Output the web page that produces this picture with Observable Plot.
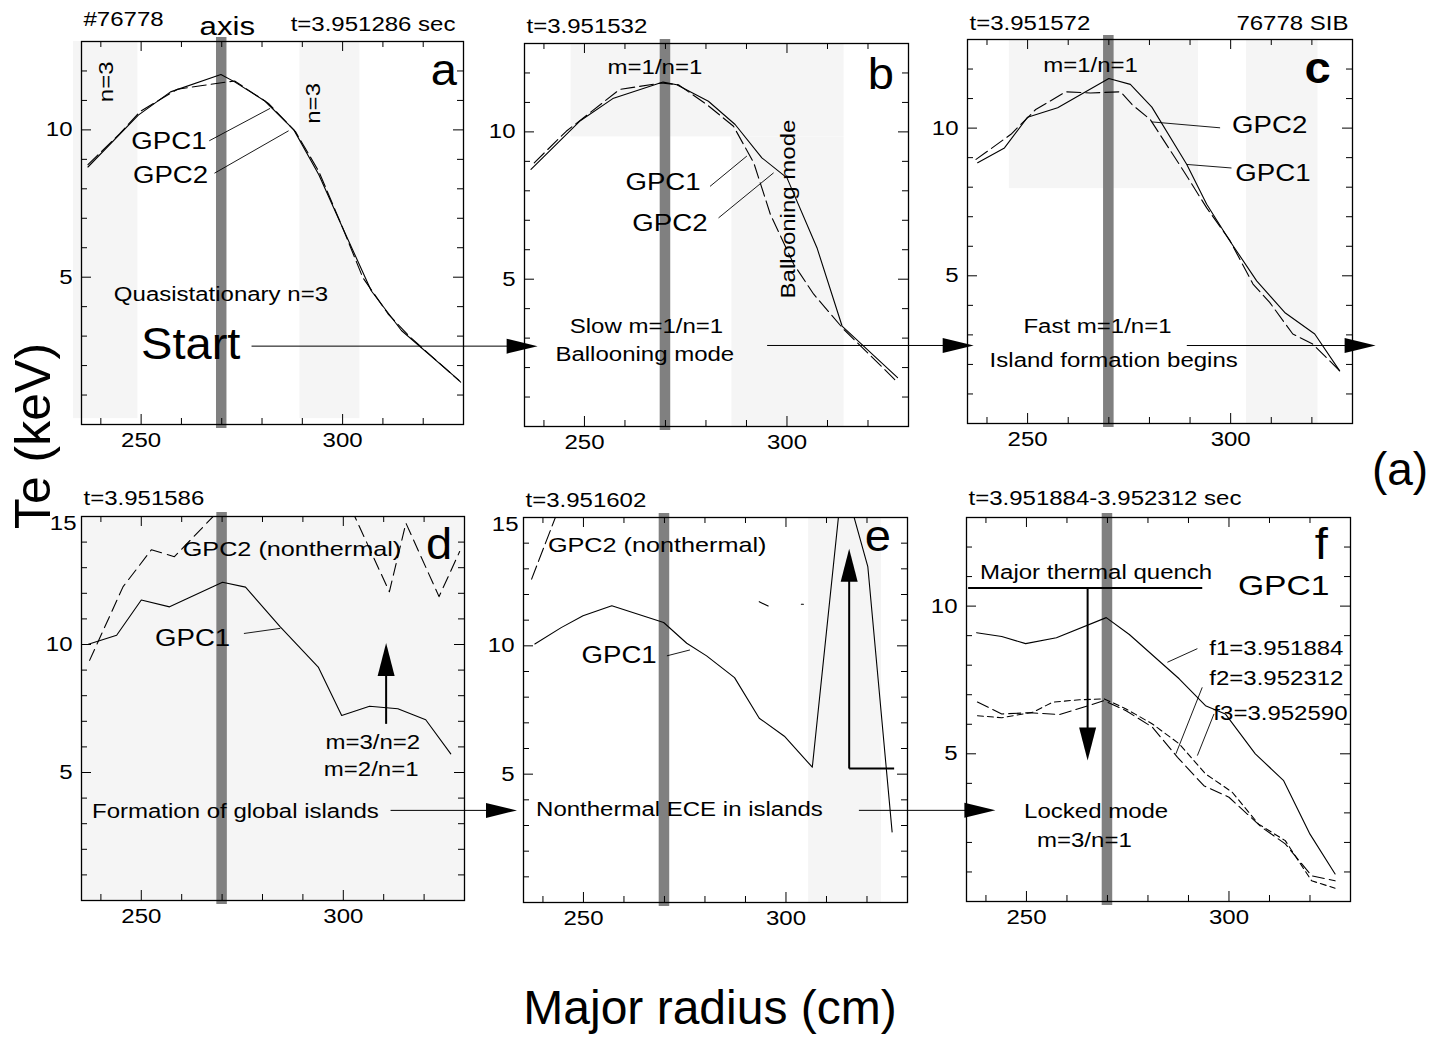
<!DOCTYPE html>
<html><head><meta charset="utf-8">
<script src="https://cdn.jsdelivr.net/npm/d3@7"></script>
<script src="https://cdn.jsdelivr.net/npm/@observablehq/plot@0.6"></script>
<style>
body{margin:0;background:#fff;}
#fig{position:relative;width:1442px;height:1040px;overflow:hidden;font-family:"Liberation Sans",Arial,Helvetica,sans-serif;background:#fff;}
.panel{position:absolute;}
.panel svg{overflow:visible;max-width:none;}
.lbl{position:absolute;color:#000;white-space:nowrap;line-height:1;font-family:"Liberation Sans",Arial,sans-serif;}
</style></head><body><div id="fig"></div><script>
// ---------- shared scales / ticks ----------
const XDOM = [235.2, 330];
const xTicks = [240, 250, 260, 270, 280, 290, 300, 310, 320];
const xLabels = [250, 300];
const AXIS_R = 270, AXIS_HALF = 1.3;
const SHADE = "#f5f5f5";

// ---------- panel a : t=3.951286 ----------
const aGpc1X = [236.8, 249.3, 257.3, 269.8, 273.2, 280.7, 287.9, 294.1, 300.0, 307.1, 314.6, 328.9];
const aGpc1Y = [8.74, 10.5, 11.29, 11.88, 11.63, 10.98, 10.0, 8.48, 6.68, 4.54, 3.19, 1.5];
const aGpc2X = [236.8, 244.7, 249.7, 259.0, 264.8, 273.2, 281.6, 288.3, 294.1, 300.0, 305.0, 311.3, 316.8, 329.3];
const aGpc2Y = [8.82, 9.87, 10.62, 11.38, 11.5, 11.66, 10.9, 9.94, 8.59, 6.68, 4.99, 3.75, 2.96, 1.44];

// ---------- panel b : t=3.951532 ----------
const bGpc1X = [236.8, 248.8, 257.0, 269.4, 272.8, 280.6, 287.2, 293.8, 300.0, 307.4, 313.6, 327.3];
const bGpc1Y = [8.73, 10.36, 11.13, 11.69, 11.6, 11.04, 10.25, 9.12, 8.44, 6.07, 3.41, 1.66];
const bGpc2X = [237.6, 245.5, 258.7, 269.0, 273.2, 280.2, 286.8, 291.8, 295.9, 301.7, 306.6, 314.0, 327.3];
const bGpc2Y = [8.95, 10.02, 11.44, 11.66, 11.6, 10.93, 10.19, 8.95, 7.2, 5.5, 4.49, 3.3, 1.5];

// ---------- panel c : t=3.951572 ----------
const cGpc1X = [237.7, 244.3, 250.0, 257.4, 270.0, 275.3, 280.6, 289.2, 294.1, 299.8, 306.4, 313.3, 320.7, 326.8];
const cGpc1Y = [8.83, 9.33, 10.37, 10.69, 11.68, 11.48, 10.71, 8.77, 7.42, 6.18, 4.83, 3.76, 3.03, 1.79];
const cGpc2X = [237.3, 245.9, 252.0, 259.4, 265.5, 272.9, 275.7, 280.2, 288.4, 294.1, 299.8, 305.5, 309.6, 315.3, 320.2, 327.6];
const cGpc2Y = [8.94, 9.79, 10.63, 11.23, 11.19, 11.23, 10.8, 10.29, 8.55, 7.3, 6.2, 4.72, 4.1, 3.03, 2.69, 1.68];

// ---------- panel d : t=3.951586 ----------
const dGpc1X = [236.9, 243.9, 250.0, 257.0, 270.1, 275.8, 284.4, 293.8, 299.6, 306.5, 313.5, 320.4, 326.6];
const dGpc1Y = [10.01, 10.36, 11.74, 11.47, 12.43, 12.24, 10.69, 9.12, 7.23, 7.59, 7.49, 7.06, 5.73];
const dGpc2X = [237.2, 245.5, 252.5, 258.2, 268.4, 276.0, 285.0, 294.0, 300.5, 311.4, 315.5, 323.7, 328.8];
const dGpc2Y = [9.38, 12.26, 13.7, 13.43, 15.1, 16.5, 17.5, 17.0, 15.8, 12.06, 14.74, 11.87, 13.63];

// ---------- panel e : t=3.951602 ----------
const eGpc1X = [238.0, 244.5, 249.9, 257.0, 269.8, 275.5, 280.4, 287.3, 293.4, 299.6, 306.5, 314.0, 320.2, 326.2];
const eGpc1Y = [10.07, 10.71, 11.17, 11.56, 10.91, 10.1, 9.61, 8.76, 7.18, 6.48, 5.27, 16.6, 13.09, 2.75];
const eGpc2X = [237.2, 246.0, NaN, 293.4, 295.6, NaN, 303.8, 304.3];
const eGpc2Y = [12.6, 16.2, NaN, 11.72, 11.55, NaN, 11.62, 11.62];

// ---------- panel f : GPC1 at three times ----------
const fF1X = [237.7, 243.9, 249.8, 257.4, 269.7, 275.4, 287.7, 294.2, 299.1, 306.5, 313.5, 320.0, 326.2];
const fF1Y = [9.1, 8.97, 8.73, 8.93, 9.61, 9.04, 7.54, 6.63, 6.35, 5.0, 4.09, 2.28, 0.93];
const fF2X = [237.9, 243.9, 250.8, 258.2, 269.2, 274.6, 281.1, 287.3, 293.8, 300.0, 308.1, 313.9, 320.4, 326.2];
const fF2Y = [6.75, 6.35, 6.39, 6.33, 6.8, 6.46, 5.9, 4.88, 3.92, 3.53, 2.51, 1.95, 0.87, 0.7];
const fF3X = [237.9, 243.9, 251.6, 256.5, 263.1, 269.2, 274.6, 281.1, 287.7, 294.2, 300.8, 307.3, 313.9, 320.4, 326.2];
const fF3Y = [6.29, 6.22, 6.41, 6.75, 6.83, 6.86, 6.52, 6.01, 5.34, 4.32, 3.7, 2.62, 2.06, 0.7, 0.45];

// ---------- annotations ----------
const aTitles = [
  {t: "#76778", fa: "top-left", anchor: "start", dx: 2, dy: -22},
  {t: "axis", x: 271.4, fa: "top", anchor: "middle", dy: -15, size: 26},
  {t: "t=3.951286 sec", x: 328.0, fa: "top", anchor: "end", dy: -17}
];
const aNotes = [
  {x: 325.1, y: 12.0, t: "a", size: 44},
  {x: 241.4, y: 11.63, t: "n=3", rotate: -90},
  {x: 292.9, y: 10.9, t: "n=3", rotate: -90},
  {x: 256.9, y: 9.6, t: "GPC1", size: 23},
  {x: 257.3, y: 8.45, t: "GPC2", size: 23},
  {x: 269.8, y: 4.42, t: "Quasistationary n=3"},
  {x: 262.3, y: 2.71, t: "Start", size: 44}
];
const aLeaders = [
  {x1: 266.9, y1: 9.63, x2: 282.0, y2: 10.73},
  {x1: 268.2, y1: 8.53, x2: 286.6, y2: 9.97}
];

const bTitles = [{t: "t=3.951532", fa: "top-left", anchor: "start", dx: 2, dy: -17}];
const bNotes = [
  {x: 267.4, y: 12.18, t: "m=1/n=1"},
  {x: 323.2, y: 11.95, t: "b", size: 44},
  {x: 269.4, y: 8.29, t: "GPC1", size: 23},
  {x: 271.1, y: 6.88, t: "GPC2", size: 23},
  {x: 300.4, y: 7.38, t: "Ballooning mode", rotate: -90},
  {x: 265.3, y: 3.4, t: "Slow m=1/n=1"},
  {x: 264.9, y: 2.43, t: "Ballooning mode"}
];
const bLeaders = [
  {x1: 281.0, y1: 8.15, x2: 290.1, y2: 9.18},
  {x1: 283.1, y1: 7.08, x2: 296.7, y2: 8.61}
];

const cTitles = [
  {t: "t=3.951572", fa: "top-left", anchor: "start", dx: 2, dy: -16},
  {t: "76778 SIB", fa: "top-right", anchor: "end", dx: -4, dy: -16}
];
const cNotes = [
  {x: 265.5, y: 12.11, t: "m=1/n=1"},
  {x: 321.4, y: 12.0, t: "c", size: 44, weight: "bold"},
  {x: 309.6, y: 10.09, t: "GPC2", size: 23},
  {x: 310.4, y: 8.46, t: "GPC1", size: 23},
  {x: 267.2, y: 3.28, t: "Fast m=1/n=1"},
  {x: 271.2, y: 2.12, t: "Island formation begins"}
];
const cLeaders = [
  {x1: 280.6, y1: 10.21, x2: 297.4, y2: 10.01},
  {x1: 289.2, y1: 8.77, x2: 300.2, y2: 8.65}
];

const dTitles = [{t: "t=3.951586", fa: "top-left", anchor: "start", dx: 2, dy: -18}];
const dNotes = [
  {x: 287.3, y: 13.73, t: "GPC2 (nonthermal)", size: 21},
  {x: 323.7, y: 13.9, t: "d", size: 44},
  {x: 262.7, y: 10.24, t: "GPC1", size: 23},
  {x: 307.3, y: 6.17, t: "m=3/n=2"},
  {x: 306.9, y: 5.13, t: "m=2/n=1"},
  {x: 273.3, y: 3.47, t: "Formation of global islands"}
];
const dLeaders = [{x1: 275.4, y1: 10.43, x2: 284.4, y2: 10.63}];

const eTitles = [{t: "t=3.951602", fa: "top-left", anchor: "start", dx: 2, dy: -17}];
const eNotes = [
  {x: 268.2, y: 13.93, t: "GPC2 (nonthermal)", size: 21},
  {x: 322.7, y: 14.26, t: "e", size: 44},
  {x: 258.8, y: 9.6, t: "GPC1", size: 23},
  {x: 273.7, y: 3.61, t: "Nonthermal ECE in islands"}
];
const eLeaders = [{x1: 270.6, y1: 9.61, x2: 276.3, y2: 9.84}];

const fTitles = [{t: "t=3.951884-3.952312 sec", fa: "top-left", anchor: "start", dx: 2, dy: -19}];
const fNotes = [
  {x: 322.8, y: 12.08, t: "f", size: 44},
  {x: 313.5, y: 10.67, t: "GPC1", size: 28},
  {x: 267.2, y: 11.15, t: "Major thermal quench"},
  {x: 311.7, y: 8.55, t: "f1=3.951884"},
  {x: 311.7, y: 7.56, t: "f2=3.952312"},
  {x: 312.7, y: 6.37, t: "f3=3.952590"},
  {x: 267.2, y: 3.04, t: "Locked mode"},
  {x: 264.3, y: 2.07, t: "m=3/n=1"}
];
const fLeaders = [
  {x1: 284.8, y1: 8.1, x2: 292.2, y2: 8.56},
  {x1: 286.9, y1: 5.0, x2: 293.4, y2: 7.25},
  {x1: 292.2, y1: 4.94, x2: 296.3, y2: 6.35}
];

// ---------- arrows (shafts and heads) ----------
const H_LEN = 31, H_WID = 15, V_LEN = 33, V_WID = 17;
const panels = [
  {id: "a", left: 81, top: 41, w: 382, h: 383, ymax: 13, yLabels: [5, 10],
   shade: [{x1: 233.2, x2: 249.2, y1: 0.2, y2: 13}, {x1: 289.4, x2: 304.3, y1: 0.2, y2: 13}],
   lines: [{x: aGpc1X, y: aGpc1Y}, {x: aGpc2X, y: aGpc2Y, dash: "14,5"}],
   titles: aTitles, notes: aNotes, leaders: aLeaders,
   thin: [{x1: 277.4, y1: 2.66, x2: 345, y2: 2.66}], thick: [],
   heads: [{x: 348.4, y: 2.66, rot: 0, len: H_LEN, wid: H_WID}]},
  {id: "b", left: 524, top: 43, w: 384, h: 383, ymax: 13, yLabels: [5, 10],
   shade: [{x1: 246.7, x2: 314.1, y1: 9.83, y2: 13}, {x1: 286.4, x2: 314.1, y1: 0, y2: 9.83}],
   lines: [{x: bGpc1X, y: bGpc1Y}, {x: bGpc2X, y: bGpc2Y, dash: "14,5"}],
   titles: bTitles, notes: bNotes, leaders: bLeaders,
   thin: [{x1: 295.1, y1: 2.75, x2: 343, y2: 2.75}], thick: [],
   heads: [{x: 346.1, y: 2.75, rot: 0, len: H_LEN, wid: H_WID}]},
  {id: "c", left: 967, top: 39, w: 385, h: 384, ymax: 13, yLabels: [5, 10],
   shade: [{x1: 245.5, x2: 292.1, y1: 7.95, y2: 13}, {x1: 303.9, x2: 321.5, y1: 0, y2: 13}],
   lines: [{x: cGpc1X, y: cGpc1Y}, {x: cGpc2X, y: cGpc2Y, dash: "14,5"}],
   titles: cTitles, notes: cNotes, leaders: cLeaders,
   thin: [{x1: 289.2, y1: 2.64, x2: 333, y2: 2.64}], thick: [],
   heads: [{x: 335.7, y: 2.64, rot: 0, len: H_LEN, wid: H_WID}]},
  {id: "d", left: 81, top: 516, w: 383, h: 384, ymax: 15, yLabels: [5, 10, 15],
   shade: [{x1: 235.2, x2: 330, y1: 0, y2: 15}],
   lines: [{x: dGpc1X, y: dGpc1Y}, {x: dGpc2X, y: dGpc2Y, dash: "12,6"}],
   titles: dTitles, notes: dNotes, leaders: dLeaders,
   thin: [{x1: 311.7, y1: 3.52, x2: 340, y2: 3.52}],
   thick: [{x1: 310.6, y1: 6.9, x2: 310.6, y2: 9.5}],
   heads: [{x: 343.0, y: 3.52, rot: 0, len: H_LEN, wid: H_WID}, {x: 310.6, y: 10.06, rot: -90, len: V_LEN, wid: V_WID}]},
  {id: "e", left: 523, top: 517, w: 384, h: 385, ymax: 15, yLabels: [5, 10, 15],
   shade: [{x1: 305.6, x2: 323.6, y1: 0, y2: 15}],
   lines: [{x: eGpc1X, y: eGpc1Y}, {x: eGpc2X, y: eGpc2Y, dash: "14,5"}],
   titles: eTitles, notes: eNotes, leaders: eLeaders,
   thin: [{x1: 318.0, y1: 3.59, x2: 349, y2: 3.59}],
   thick: [{x1: 315.6, y1: 5.22, x2: 315.6, y2: 13.2}, {x1: 315.6, y1: 5.22, x2: 326.7, y2: 5.22}],
   heads: [{x: 351.7, y: 3.59, rot: 0, len: H_LEN, wid: H_WID}, {x: 315.6, y: 13.78, rot: -90, len: V_LEN, wid: V_WID}]},
  {id: "f", left: 966, top: 517, w: 384, h: 384, ymax: 13, yLabels: [5, 10],
   shade: [],
   lines: [{x: fF1X, y: fF1Y}, {x: fF2X, y: fF2Y, dash: "12,5"}, {x: fF3X, y: fF3Y, dash: "6,4"}],
   titles: fTitles, notes: fNotes, leaders: fLeaders,
   thin: [],
   thick: [{x1: 235.6, y1: 10.61, x2: 293.4, y2: 10.61}, {x1: 265.1, y1: 10.61, x2: 265.1, y2: 5.3}],
   heads: [{x: 265.1, y: 4.77, rot: 90, len: V_LEN, wid: V_WID}]}
];

function headSymbol(len, wid) {
  return {draw(ctx) { ctx.moveTo(0, 0); ctx.lineTo(-len, -wid / 2); ctx.lineTo(-len, wid / 2); ctx.closePath(); }};
}
const rows = (xs, ys) => xs.map((x, i) => ({x, y: ys[i]}));

// the source figure's lettering is horizontally stretched
function stretchText(svg) {
  svg.querySelectorAll("text").forEach(t => {
    const fs = parseFloat(getComputedStyle(t).fontSize) || 20;
    const f = fs >= 40 ? 1.07 : 1.2;
    const L = t.getComputedTextLength();
    if (L > 0) {
      t.setAttribute("textLength", (L * f).toFixed(2));
      t.setAttribute("lengthAdjust", "spacingAndGlyphs");
    }
  });
}

function buildPanel(p) {
  const M = 40;
  const minorLen = 6, majorLen = 10;
  const xMinorOnly = xTicks.filter(v => !xLabels.includes(v));
  const yAll = d3.range(1, p.ymax);
  const yMajorIn = p.yLabels.filter(v => v < p.ymax);
  const yMinorOnly = yAll.filter(v => !yMajorIn.includes(v));
  const marks = [];
  if (p.shade.length) marks.push(Plot.rect(p.shade, {x1: "x1", x2: "x2", y1: "y1", y2: "y2", fill: SHADE}));
  const pad = 4 / (p.h / p.ymax);
  marks.push(Plot.rect([{x1: AXIS_R - AXIS_HALF, x2: AXIS_R + AXIS_HALF, y1: -pad, y2: p.ymax + pad}],
    {x1: "x1", x2: "x2", y1: "y1", y2: "y2", fill: "#808080"}));
  for (const l of p.lines) {
    marks.push(Plot.line(rows(l.x, l.y), {x: "x", y: "y", stroke: "#000", strokeWidth: 1.1,
      strokeDasharray: l.dash, clip: true}));
  }
  marks.push(Plot.link(p.leaders, {x1: "x1", y1: "y1", x2: "x2", y2: "y2", stroke: "#000", strokeWidth: 0.9}));
  if (p.thin.length) marks.push(Plot.link(p.thin, {x1: "x1", y1: "y1", x2: "x2", y2: "y2", stroke: "#000", strokeWidth: 1}));
  if (p.thick.length) marks.push(Plot.link(p.thick, {x1: "x1", y1: "y1", x2: "x2", y2: "y2", stroke: "#000", strokeWidth: 2}));
  for (const hd of p.heads) {
    marks.push(Plot.dot([hd], {x: "x", y: "y", r: 5, symbol: headSymbol(hd.len, hd.wid), rotate: hd.rot, fill: "#000", stroke: "none"}));
  }
  for (const n of p.notes) {
    marks.push(Plot.text([n], {x: "x", y: "y", text: "t", fontSize: n.size || 20, rotate: n.rotate || 0,
      fontWeight: n.weight || "normal", fill: "#000"}));
  }
  for (const t of p.titles) {
    marks.push(Plot.text([t], {x: t.x !== undefined ? "x" : undefined, text: "t", frameAnchor: t.fa,
      textAnchor: t.anchor, lineAnchor: "middle", dx: t.dx || 0, dy: t.dy, fontSize: t.size || 20, fill: "#000"}));
  }
  // inward ticks on all four sides
  marks.push(Plot.ruleX(xMinorOnly, {x: d => d, insetTop: p.h - minorLen, stroke: "#000"}));
  marks.push(Plot.ruleX(xLabels, {x: d => d, insetTop: p.h - majorLen, stroke: "#000"}));
  marks.push(Plot.ruleX(xMinorOnly, {x: d => d, insetBottom: p.h - minorLen, stroke: "#000"}));
  marks.push(Plot.ruleX(xLabels, {x: d => d, insetBottom: p.h - majorLen, stroke: "#000"}));
  marks.push(Plot.ruleY(yMinorOnly, {y: d => d, insetRight: p.w - minorLen, stroke: "#000"}));
  marks.push(Plot.ruleY(yMajorIn, {y: d => d, insetRight: p.w - majorLen, stroke: "#000"}));
  marks.push(Plot.ruleY(yMinorOnly, {y: d => d, insetLeft: p.w - minorLen, stroke: "#000"}));
  marks.push(Plot.ruleY(yMajorIn, {y: d => d, insetLeft: p.w - majorLen, stroke: "#000"}));
  marks.push(Plot.frame({stroke: "#000", strokeWidth: 1.3}));
  // tick labels
  marks.push(Plot.text(xLabels, {x: d => d, text: d => String(d), frameAnchor: "bottom", lineAnchor: "middle", dy: 16, fontSize: 20, fill: "#000"}));
  marks.push(Plot.text(yMajorIn, {y: d => d, text: d => String(d), frameAnchor: "left", textAnchor: "end", dx: -9, fontSize: 20, fill: "#000"}));
  const yTop = p.yLabels.filter(v => v >= p.ymax);
  if (yTop.length) marks.push(Plot.text(yTop, {y: d => d, text: d => String(d), frameAnchor: "left", textAnchor: "end", dx: -5, dy: 7, fontSize: 20, fill: "#000"}));

  const svg = Plot.plot({
    width: p.w + 2 * M, height: p.h + 2 * M,
    marginTop: M, marginRight: M, marginBottom: M, marginLeft: M,
    x: {domain: XDOM, axis: null},
    y: {domain: [0, p.ymax], axis: null},
    style: "overflow: visible; max-width: none; background: transparent; font-family: 'Liberation Sans', Arial, Helvetica, sans-serif; color: #000;",
    marks
  });
  const div = document.createElement("div");
  div.className = "panel";
  div.style.left = (p.left - M) + "px";
  div.style.top = (p.top - M) + "px";
  div.style.width = (p.w + 2 * M) + "px";
  div.appendChild(svg);
  document.getElementById("fig").appendChild(div);
  stretchText(svg);
}
panels.forEach(buildPanel);

// figure-level labels
const globalLabels = [
  {t: "Te (keV)", left: 33, top: 436, size: 50, transform: "translate(-50%,-50%) rotate(-90deg)"},
  {t: "Major radius (cm)", left: 710, top: 984, size: 48, transform: "translateX(-50%)"},
  {t: "(a)", left: 1400, top: 446, size: 46, transform: "translateX(-50%)"}
];
for (const g of globalLabels) {
  const el = document.createElement("div");
  el.className = "lbl";
  el.textContent = g.t;
  el.style.left = g.left + "px";
  el.style.top = g.top + "px";
  el.style.fontSize = g.size + "px";
  el.style.transform = g.transform;
  document.getElementById("fig").appendChild(el);
}
</script></body></html>
